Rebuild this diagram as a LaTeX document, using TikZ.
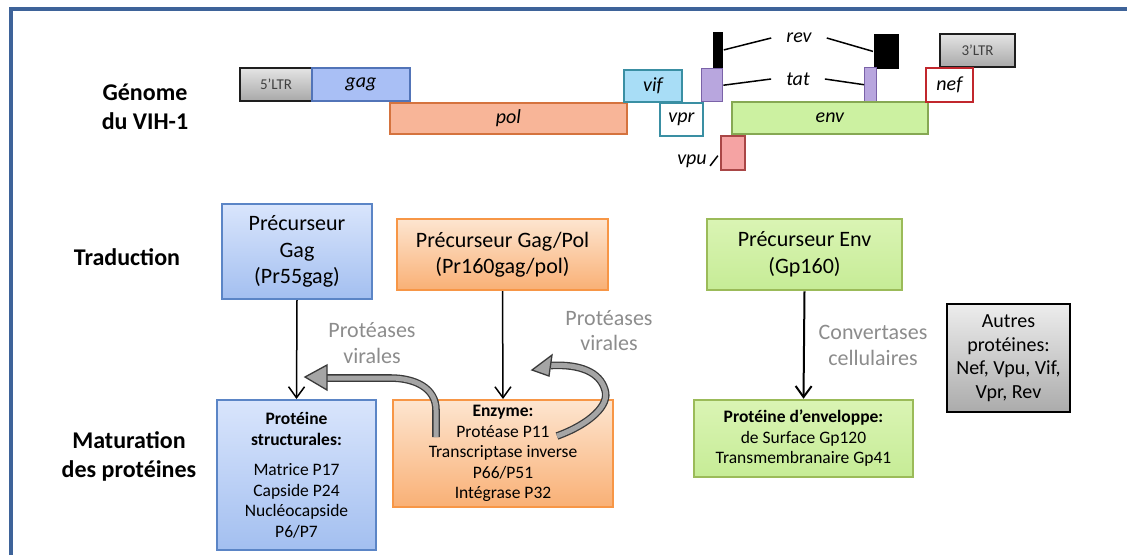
\documentclass[tikz,border=0pt]{standalone}
\usepackage{fontspec}
\setmainfont{Carlito}
\usetikzlibrary{arrows.meta}

% cores usadas no desenho
\definecolor{molduraCor}{HTML}{3E6399}
\definecolor{azulTopo}{HTML}{D9E5FC}
\definecolor{azulBase}{HTML}{A3BFF0}
\definecolor{azulBorda}{HTML}{5B85C6}
\definecolor{laranjaTopo}{HTML}{FDE5D0}
\definecolor{laranjaBase}{HTML}{F9B075}
\definecolor{laranjaBorda}{HTML}{F79646}
\definecolor{verdeTopo}{HTML}{DAF4B4}
\definecolor{verdeBase}{HTML}{C6EC96}
\definecolor{verdeBorda}{HTML}{9BBB59}
\definecolor{cinzaTopo}{HTML}{EDEDED}
\definecolor{cinzaBase}{HTML}{ABABAB}
\definecolor{cinzaTexto}{HTML}{8C8C8C}
\definecolor{cinzaSeta}{HTML}{A5A5A5}
\definecolor{cinzaEscuro}{HTML}{3A3A3A}
\definecolor{ltrTopo}{HTML}{E4E4E4}
\definecolor{ltrBase}{HTML}{A8A8A8}
\definecolor{ltrBorda}{HTML}{1E1E1E}
\definecolor{gagCor}{HTML}{A9BFF5}
\definecolor{gagBorda}{HTML}{5274B8}
\definecolor{polCor}{HTML}{F8B598}
\definecolor{polBorda}{HTML}{D5733E}
\definecolor{vifCor}{HTML}{A8DDF6}
\definecolor{vifBorda}{HTML}{3A8FA3}
\definecolor{tatCor}{HTML}{B8A6DE}
\definecolor{tatBorda}{HTML}{7A62A8}
\definecolor{envCor}{HTML}{CCF1A1}
\definecolor{envBorda}{HTML}{86A853}
\definecolor{vpuCor}{HTML}{F5A3A3}
\definecolor{vpuBorda}{HTML}{A94646}
\definecolor{nefBorda}{HTML}{C1272D}

\begin{document}
\begin{tikzpicture}[x=1pt,y=-1pt] % 1 unidade = 1pt, eixo y para baixo
%============================================================
%  Estilos das caixas, genes e setas
%============================================================
\tikzset{
    % ---  setas e tracos ------
    >={Straight Barb[length=11pt,width=16pt]},
    seta/.style={ %
            ->,             % seta no final
            line width=1.5pt
        },
    traco/.style={line width=1.5pt}, % liga rev/tat aos exons
    hasteCinza/.style={ %
            draw=cinzaEscuro,      % contorno escuro
            double=cinzaSeta,      % miolo cinza
            double distance=5pt,
            line width=1.3pt
        },
    pontaCinza/.style={ %
            draw=cinzaEscuro,
            fill=cinzaSeta,
            line width=1.3pt
        },
    % ---  genes do genoma ------
    gene/.style={ %
            rectangle,
            line width=1.8pt,
            inner sep=0pt,
            anchor=north west, % posicao = canto superior esquerdo
            font=\fontsize{20}{20}\selectfont\itshape
        },
    ltr/.style={gene, draw=ltrBorda, line width=2.2pt,
            top color=ltrTopo, bottom color=ltrBase,
            text=black!75, font=\fontsize{15}{15}\selectfont},
    nomeGene/.style={font=\fontsize{20}{20}\selectfont\itshape,
            inner xsep=15pt, inner ysep=1pt},
    % ---  caixas das proteinas ------
    caixa/.style={ %
            rectangle,
            line width=2pt,
            align=center,
            inner sep=0pt,
            font=\fontsize{22}{26.5}\selectfont
        },
    caixaAzul/.style={caixa, draw=azulBorda, top color=azulTopo, bottom color=azulBase},
    caixaLaranja/.style={caixa, draw=laranjaBorda, top color=laranjaTopo, bottom color=laranjaBase},
    caixaVerde/.style={caixa, draw=verdeBorda, line width=2.5pt, top color=verdeTopo, bottom color=verdeBase},
    caixaCinza/.style={caixa, draw=black, line width=2.2pt,
            top color=cinzaTopo, bottom color=cinzaBase,
            font=\fontsize{20}{23.5}\selectfont},
    miudo/.style={font=\fontsize{17.5}{20.5}\selectfont}, % texto menor
    % ---  textos soltos ------
    titulo/.style={align=center, font=\fontsize{24}{29}\selectfont\bfseries},
    enzimaTexto/.style={align=center, text=cinzaTexto, font=\fontsize{22}{25.5}\selectfont},
    moldura/.style={line width=4pt, draw=molduraCor}
}
\useasboundingbox (0,0) rectangle (1127,555);

   % moldura (so lado esquerdo e topo)
   \draw[moldura] (11,555) -- (11,9) -- (1127,9);

   % ----- genoma -----
   \node[titulo] (genoma) at (145,107) {Génome\\du VIH-1};

   \node[ltr, minimum width=72pt, minimum height=33pt] (ltr5) at (239,67) {5'LTR};
   \node[gene, draw=gagBorda, fill=gagCor, minimum width=98pt, minimum height=33pt] (gag) at (311,67) {gag};
   \node[gene, draw=polBorda, fill=polCor, minimum width=237pt, minimum height=31pt] (pol) at (389,102) {pol};
   \node[gene, draw=vifBorda, fill=vifCor, minimum width=58pt, minimum height=32pt] (vif) at (623,69) {vif};
   \node[gene, draw=vifBorda, fill=white, minimum width=43pt, minimum height=33pt] (vpr) at (659,102) {vpr};
   \node[gene, draw=tatBorda, fill=tatCor, line width=1.4pt, minimum width=21pt, minimum height=33pt] (tat1) at (701,68) {};
   \node[gene, fill=black, minimum width=10pt, minimum height=36pt] (rev1) at (712,31) {};
   \node[gene, fill=black, minimum width=25pt, minimum height=35pt] (rev2) at (873,33) {};
   \node[gene, draw=tatBorda, fill=tatCor, line width=1.4pt, minimum width=12pt, minimum height=34pt] (tat2) at (864,67) {};
   \node[gene, draw=envBorda, fill=envCor, minimum width=196pt, minimum height=32pt] (env) at (731,101) {env};
   \node[gene, draw=vpuBorda, fill=vpuCor, minimum width=24pt, minimum height=34pt] (vpu) at (720,135) {};
   \node[ltr, minimum width=75pt, minimum height=33pt] (ltr3) at (939,33) {3'LTR};
   \node[gene, draw=nefBorda, fill=white, minimum width=47pt, minimum height=34pt] (nef) at (925,67) {nef};

   \node[nomeGene] (revTxt) at (799,38) {rev};
   \node[nomeGene] (tatTxt) at (798,79) {tat};
   \node[nomeGene, inner xsep=1pt] (vpuTxt) at (692,161) {vpu};

   \draw[traco] (rev1.east) -- (revTxt.west);
   \draw[traco] (revTxt.east) -- (rev2.west);
   \draw[traco] (tat1.east) -- (tatTxt.west);
   \draw[traco] (tatTxt.east) -- (tat2.west);
   \draw[traco, shorten <=3.5pt, shorten >=3.5pt] (vpuTxt.south east) -- (vpu.west);

   % ----- traducao -----
   \node[titulo] (traducao) at (127,257) {Traduction};
   \node[caixaAzul, minimum width=150pt, minimum height=95pt] (precGag) at (297,251.5) {Précurseur\\Gag\\(Pr55gag)};
   \node[caixaLaranja, minimum width=211pt, minimum height=71pt] (precGagPol) at (502.5,254.5) {Précurseur Gag/Pol\\(Pr160gag/pol)};
   \node[caixaVerde, minimum width=195pt, minimum height=71pt] (precEnv) at (804.5,254.5) {Précurseur Env\\(Gp160)};

   % ----- maturacao -----
   \node[titulo] (maturacao) at (129,456) {Maturation\\des protéines};
   \node[caixaAzul, miudo, minimum width=159pt, minimum height=150pt] (protEstr) at (296.5,475)
        {\textbf{Protéine}\\\textbf{structurales:}\\[10pt]Matrice P17\\Capside P24\\Nucléocapside\\P6/P7};
   \node[caixaLaranja, miudo, minimum width=220pt, minimum height=107pt] (enzima) at (503,453.5)
        {\textbf{Enzyme:}\\Protéase P11\\Transcriptase inverse\\P66/P51\\Intégrase P32};
   \node[caixaVerde, miudo, minimum width=219pt, minimum height=77pt] (protEnv) at (803.5,438.5)
        {\textbf{Protéine d'enveloppe:}\\de Surface Gp120\\Transmembranaire Gp41};
   \node[caixaCinza, minimum width=123pt, minimum height=108pt] (outras) at (1008.5,358)
        {Autres\\protéines:\\Nef, Vpu, Vif,\\Vpr, Rev};

   % enzimas que fazem a clivagem
   \node[enzimaTexto] (protease1) at (372,343) {Protéases\\virales};
   \node[enzimaTexto] (protease2) at (609,330.5) {Protéases\\virales};
   \node[enzimaTexto] (convertase) at (873,345.5) {Convertases\\cellulaires};

   % setas precursor -> proteinas
   \draw[seta] (precGag.south) -- (protEstr.north);
   \draw[seta] (precGagPol.south) -- (enzima.north);
   \draw[seta, line width=2pt] (precEnv.south) -- (protEnv.north);

   % setas largas cinzas saindo da protease
   \coordinate (cauda1) at (436,437);
   \coordinate (ponta1) at (305,377);
   \draw[hasteCinza] (cauda1) -- (436,410) .. controls (436,388) and (415,378) .. (390,378) -- (327,378);
   \draw[pontaCinza] (327,365) -- (ponta1) -- (327,390) -- cycle;

   \coordinate (cauda2) at (557,436);
   \coordinate (ponta2) at (532,370);
   \draw[hasteCinza] (cauda2) .. controls (590,424) and (610,405) .. (605,390)
        .. controls (600,372) and (580,364) .. (551,365.5);
   \draw[pontaCinza] (552,355) -- (ponta2) -- (549,376) -- cycle;
\end{tikzpicture}
\end{document}
